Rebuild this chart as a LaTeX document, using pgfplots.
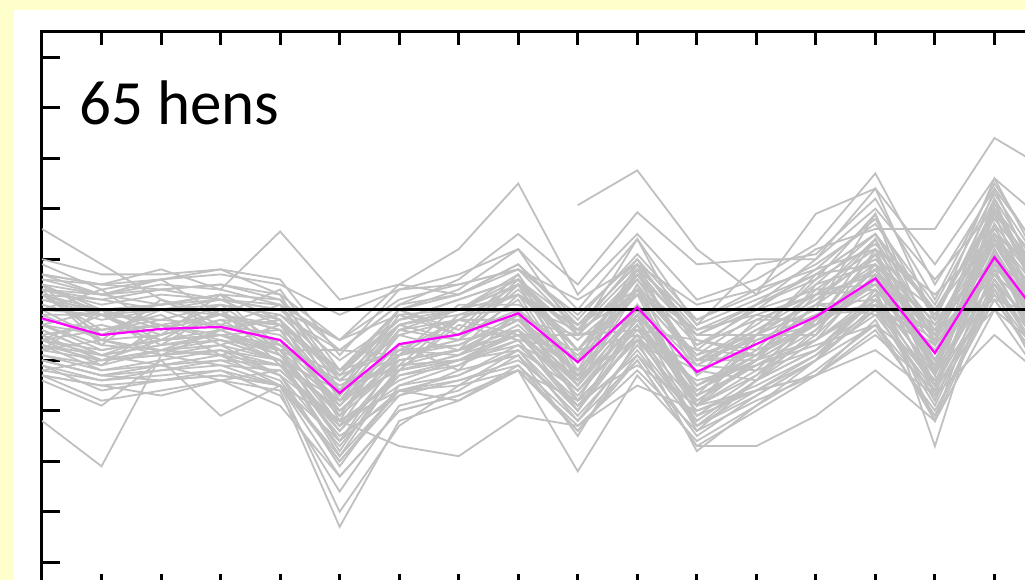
\documentclass[border=0pt]{standalone}
\usepackage{pgfplots}
\usepackage{pgfplotstable}
\pgfplotsset{compat=1.18}
\usepackage{fontspec}
\setmainfont{Carlito}
\definecolor{bgyellow}{HTML}{FFFFCC}
\definecolor{henGray}{HTML}{C0C0C0}
\definecolor{meanMag}{HTML}{FF00FF}

% one row per hen, columns = time points 0..17
\pgfplotstableread{
c0 c1 c2 c3 c4 c5 c6 c7 c8 c9 c10 c11 c12 c13 c14 c15 c16 c17
-0.1 -0.1 -0.6 -0.5 -0.4 -1.9 -0.5 -0.8 0.3 -1.4 0.5 -1.0 -0.9 0.1 0.2 -0.6 0.9 -0.1
0.2 -0.1 -0.2 0.1 -0.2 -1.4 -0.3 -0.1 0.3 -0.6 0.4 -0.9 -0.5 0.2 0.8 -0.5 1.3 -0.1
-0.6 -1.1 -0.3 -0.9 -0.6 -2.3 -0.7 -1.2 0.0 -1.8 -0.6 -1.2 -1.4 -0.1 0.0 -0.8 0.5 -0.6
0.4 0.1 0.3 0.2 0.0 -1.0 -0.2 0.2 0.6 -0.5 0.7 -0.5 0.0 0.4 1.2 -0.3 1.6 0.1
-0.7 -1.2 -1.0 -0.8 -1.3 -2.2 -1.4 -1.0 -0.8 -1.6 -0.5 -1.9 -1.2 -0.8 0.0 -1.5 0.5 -1.1
-0.3 0.0 -0.4 -0.1 -0.7 -1.3 -0.8 -0.2 -0.2 -0.5 -0.2 -0.8 -0.9 0.3 0.4 -0.5 0.8 0.0
-0.3 -0.7 -0.8 -0.4 -0.9 -1.8 -0.9 -0.6 -0.4 -1.2 -0.1 -1.5 -0.8 -0.3 0.4 -1.0 0.9 -0.8
0.6 0.5 0.4 0.5 0.3 -0.6 0.2 0.5 0.8 -0.1 1.0 -0.3 0.2 0.7 1.5 0.0 1.9 0.4
-1.0 -1.3 -1.4 -1.3 -1.5 -2.6 -1.6 -1.4 -1.0 -1.9 -0.9 -2.1 -1.6 -1.0 -0.3 -1.7 0.2 -1.4
-0.6 -0.8 -0.6 -0.5 -0.7 -1.8 -0.7 -0.5 0.0 -0.9 0.3 -1.0 -0.4 0.1 0.9 -0.5 1.4 -0.1
-0.5 -0.3 -0.6 0.0 -1.1 -1.8 -1.2 -0.2 -0.2 -1.0 0.0 -1.9 -0.6 -0.3 1.4 -1.3 2.0 -0.3
0.3 -0.1 0.0 0.2 -0.3 -1.7 -0.4 -0.2 0.5 -0.8 0.6 -1.1 -0.4 0.3 1.4 -0.6 2.0 -0.1
-0.5 -1.0 -0.8 -0.7 -1.0 -2.6 -1.2 -1.0 -0.4 -1.6 -0.2 -1.9 -1.3 -0.5 0.6 -1.5 1.2 -1.0
0.7 0.3 0.4 0.5 0.2 -1.3 0.0 0.3 0.8 -0.4 1.0 -0.7 0.0 0.8 1.8 -0.2 2.2 0.3
-1.0 -1.3 -1.2 -1.1 -1.5 -2.9 -1.6 -1.3 -0.8 -2.0 -0.5 -2.3 -1.6 -0.9 0.2 -1.8 0.8 -1.3
0.4 -0.7 0.2 -0.4 -0.2 -2.2 -0.4 -0.6 0.5 -1.3 0.7 -1.0 -1.0 0.5 0.9 -0.6 1.5 0.0
-0.3 -0.8 -0.6 -0.5 -0.9 -2.4 -1.0 -0.8 -0.2 -1.5 0.0 -1.8 -1.0 -0.3 0.8 -1.2 1.4 -0.8
1.0 0.7 0.7 0.8 0.6 -0.9 0.4 0.7 1.2 0.0 1.4 -0.3 0.9 1.1 2.2 0.2 2.5 0.7
-1.3 -1.8 -1.6 -1.4 -1.9 -3.3 -2.0 -1.7 -1.2 -2.4 -1.0 -2.7 -2.0 -1.3 -0.2 -2.2 0.4 -1.8
0.5 0.0 0.1 0.3 -0.2 -1.6 -0.3 0.0 0.6 -0.8 0.7 -1.0 -0.3 0.5 1.5 -0.5 2.1 0.0
0.0 -0.6 -0.5 -0.2 -0.8 -2.6 -0.9 -0.6 0.2 -1.5 0.4 -1.9 -1.0 0.1 1.4 -1.2 2.2 -0.6
0.5 -0.1 0.1 0.3 -0.2 -2.1 -0.4 0.0 0.7 -1.0 0.9 -1.3 -0.5 0.6 1.9 -0.7 2.4 -0.1
-0.5 -1.0 -0.9 -0.7 -1.3 -3.1 -1.5 -1.1 -0.4 -2.0 -0.1 -2.3 -1.4 -0.4 0.9 -1.7 1.7 -1.1
0.9 0.4 0.6 0.8 0.3 -1.6 0.0 0.4 1.2 -0.5 1.4 -0.8 0.1 1.0 2.4 -0.2 2.6 0.4
-1.1 -1.6 -1.4 -1.2 -1.7 -3.6 -1.9 -1.6 -0.9 -2.5 -0.6 -2.8 -1.9 -1.0 0.4 -2.2 1.2 -1.6
0.0 -0.1 -0.5 0.3 -0.9 -2.1 -1.1 -0.1 0.0 -1.0 0.3 -1.9 -0.5 0.0 1.9 -1.3 2.0 -0.1
-0.4 -0.9 -0.7 -0.5 -1.0 -2.9 -1.2 -0.9 -0.1 -1.8 0.1 -2.1 -1.3 -0.2 1.1 -1.5 1.9 -0.9
-0.6 -0.1 -0.7 0.0 -0.8 -0.8 -0.9 -0.2 -0.5 -0.5 -0.4 -0.6 -0.9 0.1 -0.1 -0.4 0.2 -0.2
0.2 0.0 0.1 0.2 0.0 -0.6 -0.1 0.0 0.3 -0.3 0.4 -0.4 -0.1 0.3 0.7 -0.2 1.0 0.0
-0.8 -1.0 -0.9 -0.8 -1.0 -1.6 -1.1 -1.0 -0.7 -1.3 -0.6 -1.4 -1.1 -0.7 -0.3 -1.2 0.0 -1.0
0.7 0.5 0.6 0.7 0.5 -0.1 0.4 0.5 0.8 0.2 0.9 0.1 0.4 0.8 1.2 0.3 1.5 0.5
-1.3 -1.5 -1.4 -1.3 -1.5 -2.2 -1.6 -1.5 -1.2 -1.8 -1.1 -1.9 -1.6 -1.3 -0.8 -1.7 -0.5 -1.5
0.3 -0.5 0.0 -0.4 -0.1 -1.2 0.0 -0.5 0.4 -0.8 0.4 -0.9 -0.1 -0.3 0.8 -0.7 1.0 -0.5
1.6 0.9 0.2 -0.1 -0.3 -1.2 -0.8 -0.9 -0.5 -1.4 -0.3 -1.5 -1.0 -0.6 0.2 -1.2 0.6 -0.9
-1.2 -1.0 -0.6 -0.4 -0.2 -1.3 -0.2 0.2 0.6 -0.3 0.9 -0.4 0.1 0.6 1.3 0.0 1.8 0.3
0.5 0.3 0.6 -0.1 0.4 -1.2 0.0 -0.4 0.7 -1.0 0.8 -0.6 -0.8 0.4 0.5 -0.3 1.0 0.0
-0.8 -0.6 -0.9 -1.1 -1.2 -2.3 -1.5 -1.3 -0.7 -1.8 -0.6 -2.0 -1.5 -0.9 -0.1 -1.6 0.3 -1.3
0.1 -0.2 0.0 -0.1 -0.4 -2.0 -1.1 -0.8 -0.5 -1.6 -0.4 -1.7 -1.1 -0.6 0.3 -1.3 0.9 -0.8
-0.4 -0.9 -0.5 -0.2 -0.3 -1.2 -0.2 0.0 0.5 -0.5 0.6 -0.7 -0.2 0.3 1.0 -0.4 1.5 -0.2
0.3 0.0 -0.3 -0.5 -0.8 -2.3 -1.3 -1.1 -0.6 -1.9 -0.5 -2.2 -1.4 -0.8 0.2 -1.5 1.0 -1.0
-0.9 -1.1 -0.8 -0.6 -1.0 -2.0 -1.0 -0.8 -0.2 -1.2 0.1 -1.1 -0.5 0.2 1.1 -0.4 1.7 0.1
0.6 0.3 0.5 0.4 0.1 -1.4 -0.5 -0.2 0.3 -0.8 0.3 -1.0 -0.6 -0.1 0.5 -0.8 0.9 -0.6
-0.8 0.0 -0.9 -0.4 -0.8 -1.4 -1.2 -0.3 -0.6 -0.8 -0.5 -1.1 -1.2 -0.1 0.1 -0.7 0.7 -0.4
-0.1 -0.6 -0.8 -0.9 -1.1 -2.5 -1.7 -1.2 -0.9 -2.1 -0.8 -2.3 -1.7 -1.0 0.0 -1.9 0.6 -1.4
0.4 0.2 0.0 0.1 -0.1 -0.8 0.1 0.3 0.9 -0.2 1.1 -0.2 0.3 0.9 1.7 0.1 2.3 0.5
-0.7 -0.9 -1.1 -0.9 -1.3 -2.7 -1.3 -1.0 -0.5 -1.7 -0.3 -1.8 -1.1 -0.4 0.7 -1.1 1.4 -0.6
0.5 -0.6 0.2 -0.3 0.1 -1.8 -0.3 -0.6 0.5 -1.4 0.5 -1.7 -0.5 -0.5 1.2 -1.3 1.9 -0.8
-0.3 -0.5 -0.3 -0.6 -0.8 -1.9 -0.8 -0.7 -0.1 -1.3 0.0 -1.6 -1.0 -0.3 0.6 -1.2 1.2 -0.7
0.3 -0.4 -0.1 -0.7 -0.3 -1.7 -0.1 -0.5 0.6 -1.2 0.8 -1.3 -0.2 -0.2 1.1 -1.0 1.5 -0.6
-0.6 -0.4 -0.2 -0.3 -0.5 -1.6 -1.0 -0.8 -0.4 -1.5 -0.2 -1.7 -1.1 -0.6 0.1 -1.4 0.7 -1.0
0.0 0.4 -0.4 0.1 -0.7 -1.5 -0.9 0.1 0.1 -0.4 0.3 -0.5 -0.5 0.7 0.9 0.0 1.5 0.5
-1.1 -1.4 -1.2 -1.0 -1.1 -2.4 -1.2 -0.9 -0.3 -1.4 -0.1 -1.6 -0.9 -0.2 0.8 -1.0 1.3 -0.6
-0.2 -0.4 -0.3 -0.1 -0.4 -1.2 -0.3 0.0 0.5 -0.4 0.8 -0.2 0.4 1.2 1.6 1.6 3.4 2.7
nan nan nan nan nan nan nan nan nan 2.07 2.76 1.2 0.3 1.9 2.4 0.9 2.6 1.6
-2.2 -3.1 -0.9 -0.8 -1.1 -2.0 -0.9 -0.7 -0.2 -1.3 0.0 -1.5 -0.9 -0.3 0.5 -1.1 1.0 -0.6
-1.4 -1.9 -1.0 -2.1 -1.5 -3.3 -2.0 -1.7 -1.2 -2.3 -1.2 -2.4 -1.8 -1.3 -0.4 -2.0 0.2 -1.5
0.7 0.5 0.8 0.4 1.55 0.2 0.5 0.3 0.9 -0.3 0.9 -0.5 0.1 0.7 1.5 -0.1 2.0 0.2
-0.9 -1.2 -1.1 -1.4 -1.6 -4.3 -2.2 -1.8 -1.1 -2.4 -0.9 -2.5 -1.7 -1.0 0.1 -1.8 0.8 -1.3
0.3 0.2 0.4 0.2 0.1 -0.6 0.5 1.2 2.5 0.3 1.5 0.2 0.6 1.3 2.7 0.5 2.4 0.8
0.4 0.3 0.1 0.3 0.2 -0.8 0.1 0.6 1.5 0.5 1.93 0.9 1.0 1.0 2.0 0.6 2.0 0.6
-1.0 -1.3 -1.1 -1.0 -1.4 -3.0 -1.6 -1.8 -1.2 -3.2 -1.3 -2.6 -1.9 -1.2 -0.3 -2.1 0.5 -1.4
-0.7 -1.0 -0.8 -0.9 -1.5 -4.0 -2.3 -1.5 -0.8 -2.2 -0.7 -2.2 -1.4 -0.8 0.3 -1.6 1.1 -1.1
-0.6 -0.9 -0.7 -0.6 -1.0 -2.8 -1.1 -1.0 -0.6 -2.0 -0.3 -2.4 -1.4 -0.6 0.7 -2.7 1.0 -1.2
-1.2 -1.4 -1.3 -1.2 -1.5 -3.0 -1.7 -1.4 -1.1 -2.2 -1.0 -2.7 -2.7 -2.1 -1.2 -2.2 0.0 -1.7
-1.3 -1.5 -1.7 -1.4 -1.2 -2.2 -2.7 -2.9 -2.1 -2.3 -1.5 -2.0 -1.6 -1.3 -0.5 -1.6 0.4 -1.2
}\hensraw
\pgfplotstabletranspose{\hens}{\hensraw}

\pgfplotstableread{
x y
0 -0.17
1 -0.50
2 -0.38
3 -0.34
4 -0.60
5 -1.65
6 -0.68
7 -0.49
8 -0.07
9 -1.04
10 0.05
11 -1.23
12 -0.68
13 -0.14
14 0.62
15 -0.86
16 1.04
17 -0.52
}\meanline

\begin{document}
\begin{tikzpicture}[x=1pt,y=1pt]
\useasboundingbox (0,0) rectangle (1025,580);
\clip (0,0) rectangle (1025,580);
\fill[bgyellow] (0,0) rectangle (1025,580);
\fill[white] (14,-20) rectangle (1100,570);
\begin{axis}[
  at={(42pt,-7.5pt)}, anchor=south west,
  scale only axis,
  width=1071.5pt, height=555.5pt,
  xmin=0, xmax=18, ymin=-5.5, ymax=5.5,
  xtick={1,...,17}, ytick={-5,...,5},
  xticklabels={}, yticklabels={},
  tick align=inside, tick pos=both,
  major tick length=15pt,
  xtick style={/pgfplots/major tick length=13pt},
  ytick style={/pgfplots/major tick length=18pt},
  tick style={line width=3pt, black},
  axis line style={line width=3pt, black},
  axis background/.style={fill=white},
  clip=true,
]
\pgfplotsinvokeforeach{1,...,65}{
  \addplot[henGray, line width=1.8pt, no markers, unbounded coords=discard] table[x expr=\coordindex, y index=#1] {\hens};
}
\addplot[black, line width=3pt, no markers] coordinates {(0,0) (18,0)};
\addplot[meanMag, line width=2.2pt, no markers] table[x=x, y=y] {\meanline};
\end{axis}
\node[anchor=base west, inner sep=0pt, text=black] at (79,455) {\fontsize{63}{76}\selectfont 65 hens};
\end{tikzpicture}
\end{document}
